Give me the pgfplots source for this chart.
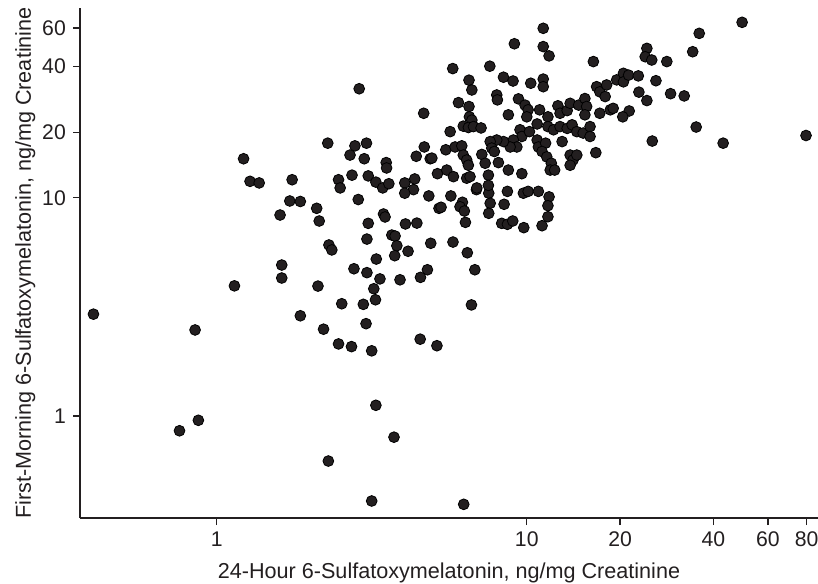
\documentclass[border=0pt]{standalone}
\usepackage{fontspec}
\setmainfont{Liberation Sans}
\usepackage{pgfplots}
\pgfplotsset{compat=1.18}
\definecolor{ink}{RGB}{35,31,32}

\pgfplotstableread{
x y
2.88 31.6
4.65 24.4
2.28 17.8
2.79 17.3
3.04 17.8
2.69 15.7
2.99 15.1
1.22 15.1
4.67 17.1
4.40 15.5
4.88 15.1
3.52 14.5
3.53 13.7
2.73 12.7
3.08 12.6
5.15 12.9
1.28 11.9
1.37 11.7
1.75 12.1
2.47 12.1
2.50 11.1
3.26 11.8
3.43 11.1
3.59 11.6
4.04 11.7
4.35 12.2
4.31 10.9
4.04 10.5
4.83 10.2
1.72 9.67
1.86 9.62
2.86 9.82
2.10 8.95
1.60 8.34
2.14 7.83
5.21 8.95
3.45 8.43
3.49 8.17
3.08 7.64
4.06 7.59
4.42 7.66
3.05 6.47
3.67 6.75
3.76 6.68
3.81 6.03
3.75 5.43
4.14 5.69
4.90 6.19
2.30 6.08
2.35 5.77
3.27 5.24
2.77 4.73
3.05 4.54
3.36 4.25
3.90 4.21
4.78 4.68
4.54 4.32
1.62 4.92
1.62 4.29
2.12 3.94
3.21 3.83
3.25 3.41
2.53 3.27
2.97 3.25
1.86 2.88
3.03 2.65
2.21 2.50
2.47 2.14
2.72 2.08
3.16 1.99
4.53 2.25
5.13 2.10
0.400 2.93
0.851 2.48
1.14 3.95
0.758 0.856
0.872 0.956
3.26 1.12
3.73 0.80
2.29 0.622
3.16 0.408
6.26 0.394
5.69 10.2
5.29 9.05
6.20 9.54
6.09 9.10
6.29 8.70
6.34 7.72
6.88 10.9
7.54 10.5
7.62 9.44
7.54 8.49
8.66 10.7
8.45 9.34
8.30 7.64
8.66 7.56
9.01 7.83
9.75 10.5
10.1 10.7
10.9 10.7
11.8 10.1
11.7 9.20
11.7 8.19
9.78 7.30
11.2 7.45
5.78 6.27
6.43 5.60
6.80 4.68
6.63 3.23
11.3 59.8
9.12 50.8
11.3 49.3
11.8 44.7
16.4 42.1
5.77 39.1
7.60 40.1
8.41 35.7
9.03 34.3
6.51 34.6
6.65 31.2
10.3 33.5
11.3 35.0
11.3 32.3
8.00 29.6
8.04 28.1
6.02 27.3
6.51 26.2
9.40 28.4
9.87 26.6
10.1 25.3
10.0 23.5
8.72 24.0
6.53 23.5
6.65 22.7
6.24 21.3
6.48 21.0
6.73 21.2
7.12 20.9
5.66 20.1
11.0 25.3
11.7 23.5
12.6 26.4
12.8 24.4
13.5 25.1
13.8 27.1
14.7 26.6
15.4 28.5
15.6 26.2
15.4 24.0
16.8 32.3
17.2 30.6
17.9 29.1
18.1 32.9
19.5 34.7
17.2 24.4
18.6 25.3
19.0 25.7
10.8 21.8
11.7 21.2
12.2 20.5
12.8 21.2
13.5 20.8
14.0 21.6
14.5 20.1
15.2 19.8
16.0 21.2
16.0 19.1
9.51 20.5
9.64 19.1
10.2 20.1
9.05 18.4
9.29 17.1
8.84 17.1
8.41 18.1
8.00 18.4
7.62 18.1
7.71 16.9
10.8 18.4
10.9 17.1
11.5 17.8
11.2 16.3
11.6 15.4
12.0 14.4
11.9 13.4
12.3 13.4
13.0 18.1
13.8 15.7
14.1 14.9
14.5 15.7
13.8 14.1
16.7 16.1
5.48 16.6
5.87 17.1
6.17 17.3
6.24 15.7
6.40 14.9
6.48 14.1
7.16 15.8
7.86 16.3
8.10 14.5
7.34 14.4
7.52 12.7
8.72 13.4
9.64 12.9
4.94 15.2
5.52 13.4
5.80 12.5
6.40 12.3
6.56 12.5
6.90 11.1
7.52 11.4
49.5 63.7
36.0 56.7
24.4 48.4
24.1 44.3
25.3 42.8
28.3 42.1
34.3 46.7
20.5 37.2
20.5 34.0
21.3 36.5
22.9 36.2
26.1 34.4
23.0 30.5
24.4 27.9
29.1 30.0
32.2 29.3
21.4 25.0
20.4 23.5
35.2 21.1
25.4 18.2
43.0 17.8
79.6 19.3
}\meltab

\begin{document}
\begin{tikzpicture}
\begin{axis}[
    scale only axis,
    width=369pt, height=255pt,
    xmode=log, ymode=log,
    xmin=0.362, xmax=87, ymin=0.341, ymax=74.1,
    axis x line=bottom, axis y line=left,
    axis line style={-, ink, line width=0.6pt},
    xtick={1,10,20,40,60,80}, xticklabels={1,10,20,40,60,80},
    ytick={1,10,20,40,60}, yticklabels={1,10,20,40,60},
    xminorticks=false, yminorticks=false,
    tick align=outside, major tick length=3.5pt,
    tick style={ink, line width=0.6pt},
    ticklabel style={font=\fontsize{10.6}{12}\selectfont, text=ink, inner sep=0pt},
    xticklabel style={anchor=base, yshift=-10.6pt},
    yticklabel style={anchor=east, xshift=-3.4pt},
    every axis x label/.style={at={(axis description cs:0.5,0)}, anchor=base, yshift=-30pt,
        font=\fontsize{10.8}{13}\selectfont, text=ink, inner sep=0pt},
    every axis y label/.style={at={(axis description cs:0,0.5)}, anchor=base, rotate=90, yshift=24.5pt,
        font=\fontsize{10.8}{13}\selectfont, text=ink, inner sep=0pt},
    xlabel={24-Hour 6-Sulfatoxymelatonin, ng/mg Creatinine},
    ylabel={First-Morning 6-Sulfatoxymelatonin, ng/mg Creatinine},
]
\addplot[only marks, mark=*, mark size=2.7pt, mark options={draw=none, fill=ink}] table {\meltab};
\end{axis}
\pgfresetboundingbox
\path[use as bounding box] (-40pt,-32.5pt) rectangle (369pt,259pt);
\end{tikzpicture}
\end{document}
